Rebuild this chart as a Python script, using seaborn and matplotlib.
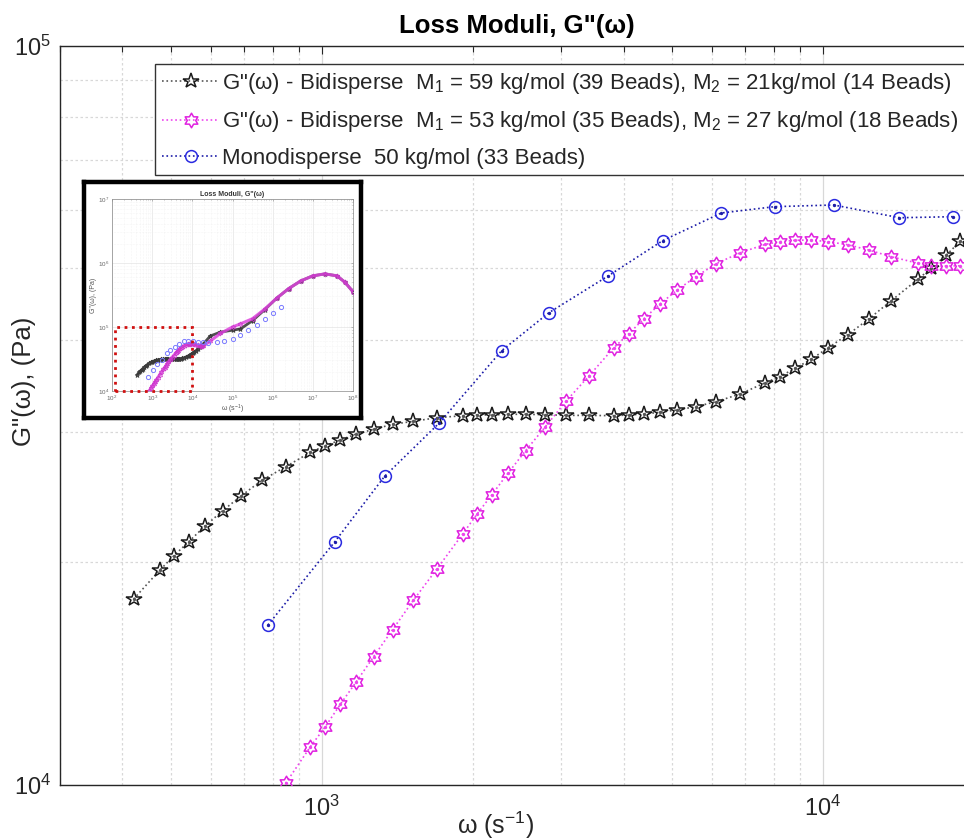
import matplotlib
matplotlib.use("Agg")
import matplotlib.pyplot as plt
from matplotlib.path import Path
from matplotlib.patches import Rectangle
from matplotlib.ticker import LogLocator, NullFormatter
import seaborn as sns

# ---- loss modulus data -------------------------------------------------
# angular frequency grid of the two bidisperse melts (s^-1)
omega_bi = [421.5, 475.1, 506.7, 542.8, 585.1, 634.5, 691.3, 760.0, 847.3,
            949.1, 1016.7, 1089.2, 1172.2, 1269.0, 1384.8, 1523.1, 1697.2,
            1912.4, 2039.3, 2184.9, 2351.3, 2550.5, 2786.5, 3074, 3411, 3825,
            4099, 4391, 4719, 5108, 5574, 6121, 6834, 7676, 8187, 8799, 9470,
            10237, 11202, 12333, 13674, 15449, 16428, 17624, 18793]
# M1 = 59 kg/mol, M2 = 21 kg/mol  (Pa)
g_bi_59_21 = [17848, 19520, 20410, 21337, 22400, 23500, 24620, 25834, 26946,
              28184, 28774, 29289, 29840, 30277, 30755, 31040, 31393, 31586,
              31660, 31660, 31726, 31726, 31690, 31620, 31620, 31586, 31660,
              31755, 31925, 32154, 32490, 33003, 33804, 35014, 35673, 36613,
              37656, 39040, 40655, 42690, 45190, 48306, 50000, 52120, 54430]
# M1 = 53 kg/mol, M2 = 27 kg/mol  (Pa), sampled from omega_bi[8] onwards
omega_bi_53_27 = omega_bi[8:]
g_bi_53_27 = [10053, 11266, 11993, 12858, 13795, 14913, 16224, 17776, 19601,
              21873, 23240, 24700, 26400, 28327, 30466, 33070, 35746, 39040,
              40780, 42730, 44680, 46680, 48700, 50720, 52480, 53870, 54310,
              54550, 54600, 54310, 53800, 52920, 51830, 50790, 50350, 50350,
              50390]
# monodisperse 50 kg/mol
omega_mono = [781, 1061, 1335, 1713, 2284, 2838, 3716, 4784, 6264, 8001,
              10503, 14202, 18140]
g_mono = [16459, 21317, 26160, 30850, 38670, 43530, 48760, 54480, 59390,
          60570, 60890, 58520, 58710]

# high-frequency part of the same spectra (shown in the overview inset)
omega_hi_bi = [2.8e4, 5.0e4, 1.0e5, 1.58e5, 3.16e5, 6.3e5, 1.26e6, 2.5e6,
               5.0e6, 1.0e7, 2.0e7, 4.0e7, 6.3e7, 1.0e8]
g_hi_59_21 = [72400, 83200, 89100, 93300, 1.26e5, 1.86e5, 2.82e5, 3.98e5,
              5.25e5, 6.3e5, 6.76e5, 6.3e5, 5.0e5, 3.55e5]
g_hi_53_27 = [60300, 79400, 100000, 112000, 1.35e5, 1.9e5, 2.82e5, 3.98e5,
              5.25e5, 6.3e5, 6.76e5, 6.3e5, 5.0e5, 3.55e5]
omega_hi_mono = [2.5e4, 4.0e4, 6.3e4, 1.0e5, 1.58e5, 2.5e5, 4.0e5, 6.3e5,
                 1.0e6, 1.58e6]
g_hi_mono = [56200, 57500, 60300, 66100, 75900, 89100, 1.07e5, 1.32e5,
             1.66e5, 2.09e5]

labels = [
    r'G"(ω) - Bidisperse  M$_1$ = 59 kg/mol (39 Beads), M$_2$ = 21kg/mol (14 Beads)',
    r'G"(ω) - Bidisperse  M$_1$ = 53 kg/mol (35 Beads), M$_2$ = 27 kg/mol (18 Beads)',
    'Monodisperse  50 kg/mol (33 Beads)',
]
x_ticks = [1e3, 1e4]
y_ticks = [1e4, 1e5]

# ---- style -------------------------------------------------------------
sns.set_theme(style="white")
plt.rcParams["font.family"] = ["Liberation Sans", "DejaVu Sans"]
plt.rcParams["mathtext.fontset"] = "custom"
plt.rcParams["mathtext.rm"] = "Liberation Sans"
plt.rcParams["mathtext.it"] = "Liberation Sans:italic"
plt.rcParams["mathtext.bf"] = "Liberation Sans:bold"
plt.rcParams["mathtext.default"] = "regular"

ink = "#262626"
hexagram = Path.unit_regular_star(6, 0.577)

W, H = 964, 840
fig = plt.figure(figsize=(W / 100, H / 100), dpi=100)
fig.patch.set_facecolor("white")


def fig_box(x0, y0, x1, y1):
    """Axes rectangle from pixel corners (top-left origin)."""
    return [x0 / W, (H - y1) / H, (x1 - x0) / W, (y1 - y0) / H]


ax = fig.add_axes(fig_box(59.6, 45.7, 974, 785))
ax.set_xscale("log")
ax.set_yscale("log")

series = [
    dict(x=omega_bi, y=g_bi_59_21, color="#555555", mec="#1a1a1a",
         marker="*", ms=11.5),
    dict(x=omega_bi_53_27, y=g_bi_53_27, color="#ee44ee", mec="#e020e0",
         marker=hexagram, ms=10.5),
    dict(x=omega_mono, y=g_mono, color="#1c1ca8", mec="#2a2ae0",
         marker="o", ms=8.5),
]
for s, lab in zip(series, labels):
    sns.lineplot(x=s["x"], y=s["y"], ax=ax, estimator=None, sort=False,
                 color=s["color"], linestyle=":", linewidth=1.2,
                 marker=s["marker"], markersize=s["ms"],
                 markerfacecolor="none", markeredgecolor=s["mec"],
                 markeredgewidth=1.1, label=lab, zorder=3)
    # the dotted line leaves a dot at every sample point
    ax.plot(s["x"], s["y"], linestyle="none", marker="o", ms=1.4,
            color=s["color"], zorder=4, label="_nolegend_")

ax.set_xlim(300, 2e4)
ax.set_ylim(1e4, 1e5)
ax.set_xticks(x_ticks)
ax.set_yticks(y_ticks)
for axis in (ax.xaxis, ax.yaxis):
    axis.set_minor_locator(LogLocator(base=10, subs=range(2, 10)))
    axis.set_minor_formatter(NullFormatter())

ax.grid(which="major", color="#d8d8d8", linewidth=0.9, linestyle="-")
ax.grid(which="minor", color="#d8d8d8", linewidth=0.9, linestyle=(0, (2, 2)))
ax.set_axisbelow(True)
for sp in ax.spines.values():
    sp.set_color(ink)
    sp.set_linewidth(1.0)
ax.tick_params(which="both", direction="in", top=True, right=True,
               color=ink, width=0.8)
ax.tick_params(which="major", length=6, labelsize=17, labelcolor=ink)
ax.tick_params(axis="x", which="major", pad=8)
ax.tick_params(axis="y", which="major", pad=6)
ax.tick_params(which="minor", length=4)

ax.set_title('Loss Moduli, G"(ω)', fontsize=18.5, fontweight="bold",
             color="black", pad=9)
ax.set_xlabel(r"ω (s$^{-1}$)", fontsize=18, color=ink)
ax.xaxis.set_label_coords(0.477, -0.033)
ax.set_ylabel('G"(ω), (Pa)', fontsize=18.5, color=ink)
ax.yaxis.set_label_coords(-0.026, 0.546)

leg = ax.legend(loc="upper left", bbox_to_anchor=(155 / W, 1 - 64.3 / H),
                bbox_transform=fig.transFigure, borderaxespad=0,
                fontsize=16, handlelength=2.6, handletextpad=0.12,
                borderpad=0.3, labelspacing=0.6, frameon=True,
                fancybox=False, edgecolor="#333333", framealpha=1)
leg.get_frame().set_linewidth(1.0)
leg.set_zorder(10)

# ---- overview inset: full frequency range ------------------------------
frame = fig.add_axes(fig_box(84, 182, 361, 418), zorder=6)
frame.set_xticks([])
frame.set_yticks([])
frame.set_facecolor("white")
for sp in frame.spines.values():
    sp.set_color("black")
    sp.set_linewidth(3.2)

inner = fig.add_axes(fig_box(112, 199, 353, 391), zorder=7)
inner.set_xscale("log")
inner.set_yscale("log")
inner.set_facecolor("white")

sns.lineplot(x=omega_bi + omega_hi_bi, y=g_bi_59_21 + g_hi_59_21, ax=inner,
             estimator=None, sort=False, color="#505050", linewidth=2.0,
             marker="*", markersize=3.5, markerfacecolor="none",
             markeredgecolor="#3a3a3a", markeredgewidth=0.6, zorder=3)
sns.lineplot(x=omega_bi_53_27 + omega_hi_bi, y=g_bi_53_27 + g_hi_53_27,
             ax=inner, estimator=None, sort=False, color="#dd44dd",
             linewidth=2.2, alpha=0.85, marker=hexagram, markersize=3.5,
             markerfacecolor="none", markeredgecolor="#cc33cc",
             markeredgewidth=0.6, zorder=4)
sns.lineplot(x=omega_mono + omega_hi_mono, y=g_mono + g_hi_mono, ax=inner,
             estimator=None, sort=False, color="#8888ff", linestyle="none",
             marker="o", markersize=3.0, markerfacecolor="none",
             markeredgecolor="#7a7aff", markeredgewidth=0.7, zorder=5)

inner.add_patch(Rectangle((120, 1e4), 1e4 - 120, 1e5 - 1e4, fill=False,
                          edgecolor="#d01010", linestyle=":", linewidth=2.0,
                          clip_on=False, zorder=6))
inner.set_xlim(1e2, 1e8)
inner.set_ylim(1e4, 1e7)
inner.set_xticks([1e2, 1e3, 1e4, 1e5, 1e6, 1e7, 1e8])
inner.set_yticks([1e4, 1e5, 1e6, 1e7])
for axis in (inner.xaxis, inner.yaxis):
    axis.set_minor_locator(LogLocator(base=10, subs=range(2, 10)))
    axis.set_minor_formatter(NullFormatter())
inner.grid(which="major", color="#e4e4e4", linewidth=0.5)
inner.grid(which="minor", color="#ececec", linewidth=0.4, linestyle=":")
inner.set_axisbelow(True)
for sp in inner.spines.values():
    sp.set_color("#888888")
    sp.set_linewidth(0.5)
inner.tick_params(which="both", direction="in", top=True, right=True,
                  color="#888888", width=0.4, length=1.5,
                  labelsize=4.5, labelcolor="#666666", pad=2)
inner.tick_params(which="minor", length=0.8)
inner.set_title('Loss Moduli, G"(ω)', fontsize=5, fontweight="bold",
                color="#333333", pad=2)
inner.set_xlabel(r"ω (s$^{-1}$)", fontsize=5, color="#555555", labelpad=0)
inner.set_ylabel('G"(ω), (Pa)', fontsize=5, color="#555555", labelpad=1)
if inner.get_legend() is not None:
    inner.get_legend().remove()

fig.savefig("out.png", dpi=100, facecolor="white")
